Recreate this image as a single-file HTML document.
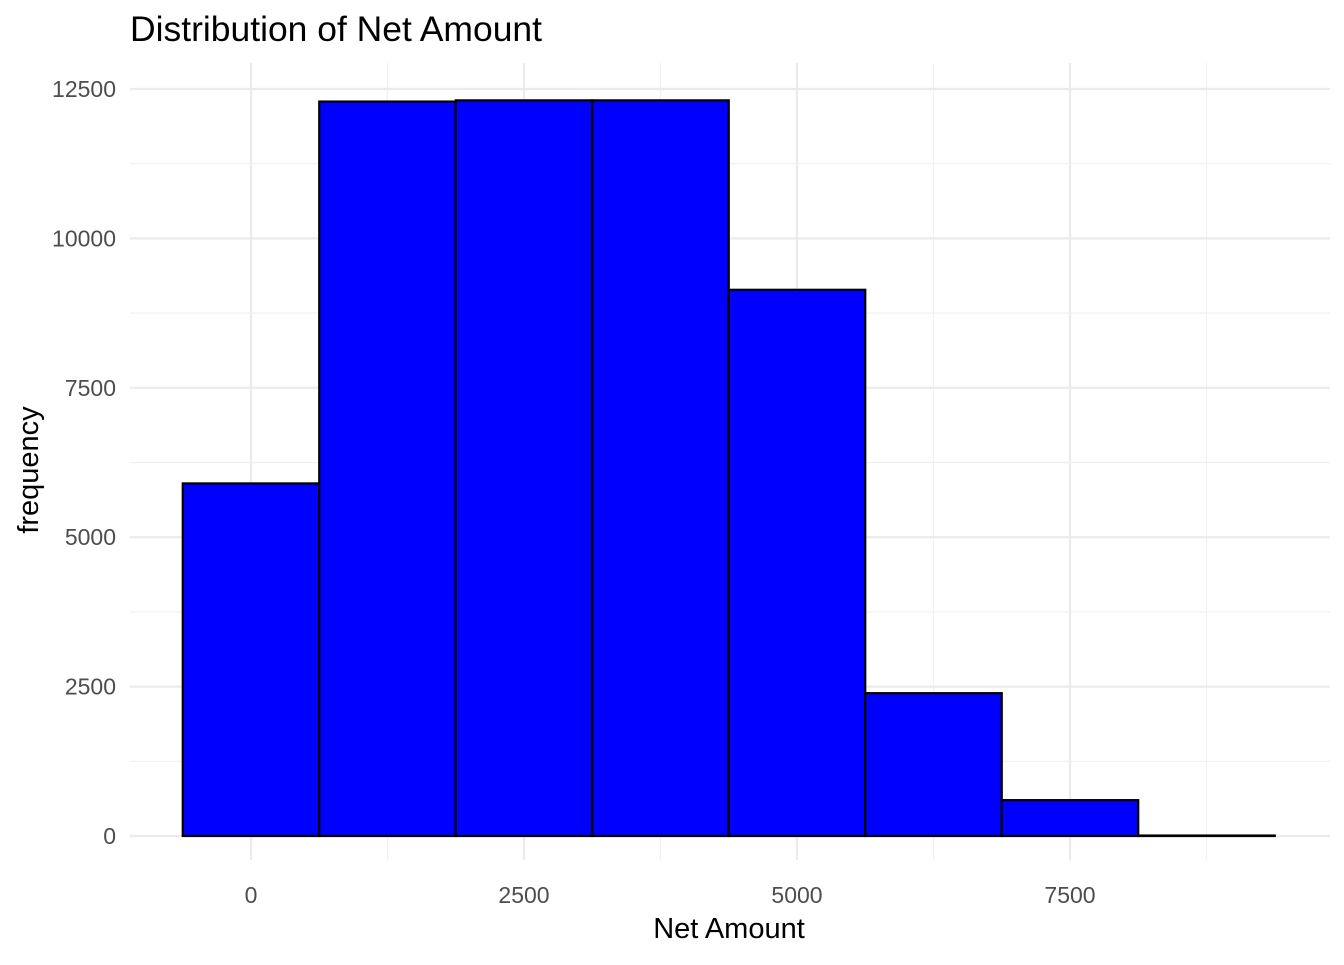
<!DOCTYPE html>
<html><head><meta charset="utf-8"><style>
body{margin:0;background:#fff;}
svg text{font-family:"Liberation Sans",sans-serif;}
</style></head><body>
<svg id="chart" width="1344" height="960" xmlns="http://www.w3.org/2000/svg">
<text x="130" y="41" font-size="35" fill="#000" textLength="412" lengthAdjust="spacingAndGlyphs">Distribution of Net Amount</text>
<text x="729" y="938" font-size="29" text-anchor="middle" fill="#000">Net Amount</text>
<text transform="translate(38,470) rotate(-90)" font-size="29" text-anchor="middle" fill="#000">frequency</text>
<g id="grid"></g><g id="bars"></g><g id="ticks"></g>
</svg>
<script>
const binCenters=[0,1250,2500,3750,5000,6250,7500,8750];
const counts=[5900,12290,12310,12310,9140,2390,600,8];
const xTicks=[0,2500,5000,7500];
const yTicks=[0,2500,5000,7500,10000,12500];
const binWidth=1250;
const ns="http://www.w3.org/2000/svg";
const X=v=>251+v*0.1092;
const Y=v=>836-v*0.05976;
const L=130,R=1330,T=63,B=860;
const grid=document.getElementById('grid'),bars=document.getElementById('bars'),ticks=document.getElementById('ticks');
function ln(g,x1,y1,x2,y2,c,w){const l=document.createElementNS(ns,'line');l.setAttribute('x1',x1);l.setAttribute('y1',y1);l.setAttribute('x2',x2);l.setAttribute('y2',y2);l.setAttribute('stroke',c);l.setAttribute('stroke-width',w);g.appendChild(l);return l;}
for(let i=0;i<xTicks.length;i++){const m=xTicks[i]+1250;
const a=ln(grid,X(m),T,X(m),B,'#f0f0f0',1.2);


const g=ln(grid,X(xTicks[i]),T,X(xTicks[i]),B,'#ebebeb',2.2);


const t=document.createElementNS(ns,'text');t.setAttribute('x',X(xTicks[i]));t.setAttribute('y',903);t.setAttribute('font-size','23');t.setAttribute('fill','#4d4d4d');t.setAttribute('text-anchor','middle');t.textContent=xTicks[i];


ticks.appendChild(t);}
for(let i=0;i<yTicks.length;i++){const v=yTicks[i];
if(i<yTicks.length-1){const a=ln(grid,L,Y(v+1250),R,Y(v+1250),'#f0f0f0',1.2);

}
const g=ln(grid,L,Y(v),R,Y(v),'#ebebeb',2.2);


const t=document.createElementNS(ns,'text');t.setAttribute('x',116);t.setAttribute('y',Y(v)+8);t.setAttribute('font-size','23');t.setAttribute('fill','#4d4d4d');t.setAttribute('text-anchor','end');t.textContent=v;


ticks.appendChild(t);}
for(let i=0;i<counts.length;i++){const r=document.createElementNS(ns,'rect');
const x0=X(binCenters[i]-binWidth/2),x1=X(binCenters[i]+binWidth/2);
r.setAttribute('x',x0);r.setAttribute('y',Y(counts[i]));r.setAttribute('width',x1-x0);r.setAttribute('height',Y(0)-Y(counts[i]));
r.setAttribute('fill','#0000ff');r.setAttribute('stroke','#000');r.setAttribute('stroke-width','2.2');


bars.appendChild(r);}
</script>
</body></html>
